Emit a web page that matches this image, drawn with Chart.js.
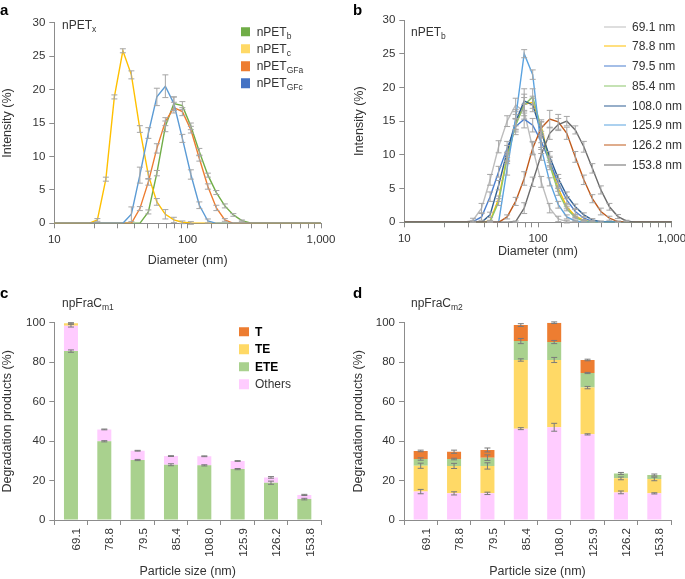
<!DOCTYPE html>
<html>
<head>
<meta charset="utf-8">
<script src="https://cdn.jsdelivr.net/npm/chart.js@4.4.1/dist/chart.umd.min.js"></script>
<style>
body { margin: 0; background: #fff; }
#page { position: relative; width: 685px; height: 579px; overflow: hidden; font-family: "Liberation Sans", Arial, sans-serif; color: #333; }
canvas { position: absolute; }
.t { position: absolute; white-space: nowrap; line-height: 1; transform: translateY(-50%); font-size: 12px; }
.t sub { font-size: 8.5px; vertical-align: baseline; position: relative; top: 3px; }
.tag { position: absolute; font-weight: bold; font-size: 15px; line-height: 1; color: #000; }
.sw { position: absolute; width: 9.5px; height: 9.5px; transform: translateY(-50%); }
.ln { position: absolute; width: 22px; height: 0; border-top: 1.5px solid; transform: translateY(-50%); }
</style>
</head>
<body>
<div id="page">
  <canvas id="ca" width="340" height="280" style="left:0;top:0"></canvas>
  <canvas id="cb" width="345" height="280" style="left:340px;top:0"></canvas>
  <canvas id="cc" width="340" height="299" style="left:0;top:280px"></canvas>
  <canvas id="cd" width="345" height="299" style="left:340px;top:280px"></canvas>

  <div class="tag" style="left:0;top:2px">a</div>
  <div class="tag" style="left:353px;top:2px">b</div>
  <div class="tag" style="left:0;top:285px">c</div>
  <div class="tag" style="left:353px;top:285px">d</div>

  <div class="t" style="left:62px;top:25px">nPET<sub>x</sub></div>
  <div class="t" style="left:411px;top:31.5px">nPET<sub>b</sub></div>
  <div class="t" style="left:62px;top:302.5px">npFraC<sub>m1</sub></div>
  <div class="t" style="left:411px;top:303px">npFraC<sub>m2</sub></div>
  <div id="legends"></div>
</div>
<script>
// DLS size bins (nm), shared by panels a and b
const binsNm = [8.721, 10.1, 11.7, 13.54, 15.69, 18.17, 21.04, 24.36, 28.21, 32.67,
  37.84, 43.82, 50.75, 58.77, 68.06, 78.82, 91.28, 105.7, 122.4, 141.8,
  164.2, 190.1, 220.2, 255.0, 295.3, 342.0, 396.1, 458.7, 531.2, 615.1,
  712.4, 825.0, 955.4, 1106];

// panel a: intensity (%) per bin
const nPETb = [0,0,0,0,0,0,0,0,0,0,
  0,0,1.7,7.5,14.5,17.9,17.6,14.5,10.7,7.2,
  4.6,2.6,1.25,0.4,0.05,0,0,0,0,0,
  0,0,0,0];
const nPETbErr = [0,0,0,0,0,0,0,0,0,0,
  0,0,0.3,0.4,0.8,1.0,0.6,0.5,0.5,0.3,
  0.3,0.3,0.2,0.1,0,0,0,0,0,0,
  0,0,0,0];
const nPETc = [0,0,0,0,0,0,0.5,6.6,18.9,25.8,
  22.2,14.1,7.2,3.2,1.35,0.5,0.15,0.05,0,0,
  0,0,0,0,0,0,0,0,0,0,
  0,0,0,0];
const nPETcErr = [0,0,0,0,0,0,0.2,0.3,0.3,0.3,
  0.6,0.5,0.6,0.5,0.7,0.4,0.2,0.2,0,0,
  0,0,0,0,0,0,0,0,0,0,
  0,0,0,0];
const nPETGFa = [0,0,0,0,0,0,0,0,0,0,
  0,2.2,6.2,11.2,15.2,17.3,16.7,14.0,9.7,5.5,
  2.3,0.5,0,0,0,0,0,0,0,0,
  0,0,0,0];
const nPETGFaErr = [0,0,0,0,0,0,0,0,0,0,
  0,0.3,0.5,0.7,0.6,0.8,0.6,0.5,0.4,0.4,
  0.4,0.2,0,0,0,0,0,0,0,0,
  0,0,0,0];
const nPETGFc = [0,0,0,0,0,0,0,0,0,0,
  1.35,7.2,13.5,18.9,20.5,17.9,12.7,7.3,2.7,0.35,
  0,0,0,0,0,0,0,0,0,0,
  0,0,0,0];
const nPETGFcErr = [0,0,0,0,0,0,0,0,0,0,
  1.1,1.2,0.8,1.3,1.7,1.0,0.6,0.7,0.5,0.3,
  0,0,0,0,0,0,0,0,0,0,
  0,0,0,0];

// panel b: nPETb fractions
const s691 = [0,0,0,0,0,0,0,0,0,0.3,
  2.1,6.3,11.2,15.0,17.4,16.4,11.0,6.0,2.1,0.5,
  0.1,0,0,0,0,0,0,0,0,0,
  0,0,0,0];
const s691Err = [0,0,0,0,0,0,0,0,0,0.3,
  0.7,0.8,0.9,0.8,1.0,1.1,0.9,0.8,0.7,0.4,
  0.2,0,0,0,0,0,0,0,0,0,
  0,0,0,0];
const s788 = [0,0,0,0,0,0,0,0,0,0,
  0,0.2,3.5,9.8,14.5,17.5,17.8,14.2,9.0,5.0,
  2.3,0.9,0.3,0,0,0,0,0,0,0,
  0,0,0,0];
const s788Err = [0,0,0,0,0,0,0,0,0,0,
  0,0.1,0.4,0.6,0.8,1.0,0.9,0.7,0.6,0.4,
  0.3,0.2,0.1,0,0,0,0,0,0,0,
  0,0,0,0];
const s795 = [0,0,0,0,0,0,0,0,0,0.1,
  0.8,3.8,7.5,11.0,14.2,15.3,14.4,12.0,9.0,5.8,
  3.3,1.6,0.6,0.15,0,0,0,0,0,0,
  0,0,0,0];
const s795Err = [0,0,0,0,0,0,0,0,0,0.1,
  0.5,0.7,0.8,1.0,1.2,1.3,1.0,0.9,0.8,0.7,
  0.5,0.4,0.2,0.1,0,0,0,0,0,0,
  0,0,0,0];
const s854 = [0,0,0,0,0,0,0,0,0,0,
  0,0.1,3.0,9.5,14.4,17.4,18.6,14.0,8.5,4.5,
  2.0,0.7,0.2,0,0,0,0,0,0,0,
  0,0,0,0];
const s854Err = [0,0,0,0,0,0,0,0,0,0,
  0,0.1,0.5,0.8,1.0,1.6,1.2,0.9,0.7,0.5,
  0.3,0.2,0.1,0,0,0,0,0,0,0,
  0,0,0,0];
const s1080 = [0,0,0,0,0,0,0,0,0,0,
  0,1.1,5.5,10.5,14.9,18.0,17.4,13.4,9.7,6.5,
  4.0,2.3,1.1,0.35,0.1,0,0,0,0,0,
  0,0,0,0];
const s1080Err = [0,0,0,0,0,0,0,0,0,0,
  0,0.4,0.7,0.9,1.1,1.8,1.0,0.9,0.8,0.6,
  0.5,0.4,0.3,0.2,0.1,0,0,0,0,0,
  0,0,0,0];
const s1259 = [0,0,0,0,0,0,0,0,0,0,
  0,0,0,8.0,15.5,25.0,21.9,11.0,6.0,2.6,
  0.8,0.2,0,0,0,0,0,0,0,0,
  0,0,0,0];
const s1259Err = [0,0,0,0,0,0,0,0,0,0,
  0,0,0,1.0,1.2,0.6,0.7,0.8,0.6,0.5,
  0.3,0.1,0,0,0,0,0,0,0,0,
  0,0,0,0];
const s1262 = [0,0,0,0,0,0,0,0,0,0,
  0,0,0,0.8,3.1,6.5,11.0,14.0,15.3,14.9,
  13.2,9.7,6.3,3.5,1.6,0.6,0.1,0,0,0,
  0,0,0,0];
const s1262Err = [0,0,0,0,0,0,0,0,0,0,
  0,0,0,0.3,0.6,1.0,1.0,1.2,1.3,1.1,
  0.9,0.8,0.7,0.6,0.5,0.3,0.1,0,0,0,
  0,0,0,0];
const s1538 = [0,0,0,0,0,0,0,0,0,0,
  0,0,0,0,0.1,2.1,6.0,10.0,13.2,14.5,
  15.0,13.7,11.2,8.0,4.8,2.3,0.85,0.2,0,0,
  0,0,0,0];
const s1538Err = [0,0,0,0,0,0,0,0,0,0,
  0,0,0,0,0.1,0.8,0.7,0.8,0.9,0.9,
  0.7,0.6,0.8,0.7,0.6,0.5,0.3,0.1,0,0,
  0,0,0,0];
const sizeLabelsB = ['69.1 nm', '78.8 nm', '79.5 nm', '85.4 nm', '108.0 nm', '125.9 nm', '126.2 nm', '153.8 nm'];

// panels c and d: degradation products (%) per particle size
const particleSizes = ['69.1', '78.8', '79.5', '85.4', '108.0', '125.9', '126.2', '153.8'];
const eteC    = [85.6, 39.9, 30.4, 28.0, 27.7, 25.8, 18.9, 10.6];
const othersC = [12.9, 6.0, 4.7, 4.4, 4.6, 4.1, 2.7, 2.1];
const teC     = [1.2, 0, 0, 0, 0, 0, 0, 0];
const tC      = [0, 0, 0, 0, 0, 0, 0, 0];
const eteCErr    = [0.6, 0.3, 0.3, 0.5, 0.3, 0.3, 0.8, 0.4];
const othersCErr = [0.7, 0.2, 0.2, 0.2, 0.2, 0.2, 0.4, 0.3];
const teCErr     = [0.3, 0, 0, 0, 0, 0, 0, 0];

const othersD = [14.4, 13.5, 13.5, 46.3, 47.0, 43.4, 14.0, 13.5];
const teD     = [13.1, 13.9, 13.9, 34.8, 34.1, 23.7, 7.1, 7.3];
const eteD    = [3.4, 3.5, 4.2, 9.6, 9.1, 7.4, 2.5, 2.0];
const tD      = [4.1, 3.7, 3.9, 8.1, 9.8, 6.6, 0, 0];
const othersDErr = [1.1, 0.8, 0.6, 0.5, 2.0, 0.3, 0.7, 0.3];
const teDErr     = [1.3, 1.3, 1.6, 0.6, 1.3, 0.6, 0.7, 0.9];
const eteDErr    = [0.6, 0.4, 1.4, 1.3, 0.8, 0.3, 0.5, 0.5];
const tDErr      = [0.4, 0.8, 1.0, 0.7, 0.4, 0.4, 0, 0];

const FONT = '"Liberation Sans", Arial, sans-serif';
const TEXT = '#333333';
const AXIS = '#8c8c8c';
const C_T = '#ed7d31', C_TE = '#ffd966', C_ETE = '#a9d18e', C_OTH = '#ffccff';

// draws +/- error bars centred on each element, sized with the y scale
const errorBars = {
  id: 'errorBars',
  afterDatasetsDraw(chart, args, opts) {
    const ctx = chart.ctx;
    const y = chart.scales.y;
    ctx.save();
    ctx.strokeStyle = opts.color;
    ctx.lineWidth = 1;
    chart.data.datasets.forEach((ds, i) => {
      if (!ds.errors) return;
      chart.getDatasetMeta(i).data.forEach((el, j) => {
        const e = ds.errors[j];
        if (!e) return;
        const h = y.getPixelForValue(0) - y.getPixelForValue(e);
        ctx.beginPath();
        ctx.moveTo(el.x, el.y - h); ctx.lineTo(el.x, el.y + h);
        ctx.moveTo(el.x - opts.cap, el.y - h); ctx.lineTo(el.x + opts.cap, el.y - h);
        ctx.moveTo(el.x - opts.cap, el.y + h); ctx.lineTo(el.x + opts.cap, el.y + h);
        ctx.stroke();
      });
    });
    ctx.restore();
  }
};

function yAxis(max, step, width, title, titleTop) {
  return {
    min: 0, max: max, stacked: true,
    border: { color: AXIS },
    grid: { drawOnChartArea: false, tickLength: 5, color: AXIS },
    ticks: { stepSize: step, color: TEXT, font: { family: FONT, size: 11.5 }, padding: 4 },
    title: { display: true, text: title, color: TEXT, font: { family: FONT, size: 12.5 }, padding: { top: titleTop, bottom: 0 } },
    afterFit(s) { s.width = width; s.paddingTop = 0; s.paddingBottom = 0; }
  };
}

function logAxis(height, titleBottom) {
  return {
    type: 'logarithmic', min: 10, max: 1000,
    border: { color: AXIS },
    grid: { drawOnChartArea: false, tickLength: 5, color: AXIS },
    ticks: {
      autoSkip: false, maxRotation: 0, color: TEXT, font: { family: FONT, size: 11.5 }, padding: 5,
      callback(v) {
        const l = Math.log10(v);
        if (Math.abs(l - Math.round(l)) > 1e-6) return '';
        return v >= 1000 ? v.toLocaleString('en-US') : String(v);
      }
    },
    title: { display: true, text: 'Diameter (nm)', color: TEXT, font: { family: FONT, size: 12.5 }, padding: { top: 0, bottom: titleBottom } },
    afterFit(s) { s.height = height; s.paddingLeft = 0; s.paddingRight = 0; }
  };
}

function catAxis(height) {
  return {
    stacked: true,
    border: { color: AXIS },
    grid: { drawOnChartArea: false, tickLength: 5, color: AXIS, offset: true },
    ticks: { minRotation: 90, maxRotation: 90, labelOffset: 6, color: TEXT, font: { family: FONT, size: 11.5 }, padding: 3 },
    title: { display: true, text: 'Particle size (nm)', color: TEXT, font: { family: FONT, size: 12.5 }, padding: { top: 0, bottom: 0 } },
    afterFit(s) { s.height = height; s.paddingLeft = 0; s.paddingRight = 0; }
  };
}

function lineSet(label, data, errors, color, order) {
  return { label, data, errors, borderColor: color, backgroundColor: color, borderWidth: 1.4,
    pointRadius: 0, tension: 0, fill: false, order };
}

function barSet(label, data, errors, color) {
  return { label, data, errors, backgroundColor: color, borderWidth: 0,
    barPercentage: 0.42, categoryPercentage: 1 };
}

function baseOptions(padding, scales, errColor) {
  return {
    responsive: false, animation: false,
    layout: { padding },
    plugins: { legend: { display: false }, tooltip: { enabled: false },
      errorBars: { color: errColor, cap: 3 } },
    scales
  };
}

// a
const seriesA = [
  lineSet('nPETb', nPETb, nPETbErr, '#70ad47', 3),
  lineSet('nPETc', nPETc, nPETcErr, '#ffc000', 2),
  lineSet('nPETGFa', nPETGFa, nPETGFaErr, '#ed7d31', 1),
  lineSet('nPETGFc', nPETGFc, nPETGFcErr, '#5b9bd5', 0)
];
new Chart(document.getElementById('ca'), {
  type: 'line',
  data: { labels: binsNm, datasets: seriesA },
  options: baseOptions({ top: 22.7, right: 19, left: 0, bottom: 0 },
    { x: logAxis(56.7, 11.5), y: { ...yAxis(30, 5, 54.3, 'Intensity (%)', 0.5), stacked: false } }, '#a6a6a6'),
  plugins: [errorBars]
});

// b
const colorsB = ['#bdbdbd', '#ffc000', '#4a7fcf', '#8cc66a', '#2f5f93', '#5ba3e0', '#c05a1b', '#6b6b6b'];
const valuesB = [s691, s788, s795, s854, s1080, s1259, s1262, s1538];
const errorsB = [s691Err, s788Err, s795Err, s854Err, s1080Err, s1259Err, s1262Err, s1538Err];
new Chart(document.getElementById('cb'), {
  type: 'line',
  data: { labels: binsNm, datasets: sizeLabelsB.map((l, i) => lineSet(l, valuesB[i], errorsB[i], colorsB[i], 7 - i)) },
  options: baseOptions({ top: 20, right: 13.3, left: 0, bottom: 0 },
    { x: logAxis(57.7, 20.5), y: { ...yAxis(30, 5, 64.3, 'Intensity (%)', 12.5), stacked: false } }, '#a6a6a6'),
  plugins: [errorBars]
});

// c (stack: ETE, Others, TE, T)
new Chart(document.getElementById('cc'), {
  type: 'bar',
  data: { labels: particleSizes, datasets: [
    barSet('ETE', eteC, eteCErr, C_ETE),
    barSet('Others', othersC, othersCErr, C_OTH),
    barSet('TE', teC, teCErr, C_TE),
    barSet('T', tC, null, C_T)
  ] },
  options: baseOptions({ top: 42.7, right: 19, left: 0, bottom: 0 },
    { x: catAxis(59), y: yAxis(100, 20, 54.3, 'Degradation products (%)', 0) }, '#7a7a7a'),
  plugins: [errorBars]
});

// d (stack: Others, TE, ETE, T)
new Chart(document.getElementById('cd'), {
  type: 'bar',
  data: { labels: particleSizes, datasets: [
    barSet('Others', othersD, othersDErr, C_OTH),
    barSet('TE', teD, teDErr, C_TE),
    barSet('ETE', eteD, eteDErr, C_ETE),
    barSet('T', tD, tDErr, C_T)
  ] },
  options: baseOptions({ top: 42.7, right: 14, left: 0, bottom: 0 },
    { x: catAxis(59), y: yAxis(100, 20, 64, 'Degradation products (%)', 11.5) }, '#7a7a7a'),
  plugins: [errorBars]
});

// HTML legends (subscripts need real markup)
const legendA = [['b', '#70ad47'], ['c', '#ffd966'], ['GFa', '#ed7d31'], ['GFc', '#4472c4']];
const legendC = [['T', C_T, true], ['TE', C_TE, true], ['ETE', C_ETE, true], ['Others', C_OTH, false]];
let html = '';
legendA.forEach(([sub, col], i) => {
  const y = 31.5 + i * 17.3;
  html += `<div class="sw" style="left:240.7px;top:${y}px;background:${col}"></div>` +
    `<div class="t" style="left:256.7px;top:${y}px">nPET<sub>${sub}</sub></div>`;
});
sizeLabelsB.forEach((l, i) => {
  const y = 26.7 + i * 19.7;
  html += `<div class="ln" style="left:604px;top:${y}px;border-color:${colorsB[i]}"></div>` +
    `<div class="t" style="left:632px;top:${y}px">${l}</div>`;
});
legendC.forEach(([name, col, bold], i) => {
  const y = 331.7 + i * 17.45;
  html += `<div class="sw" style="left:239px;top:${y}px;background:${col}"></div>` +
    `<div class="t" style="left:255px;top:${y}px;${bold ? 'font-weight:bold;color:#000' : ''}">${name}</div>`;
});
document.getElementById('legends').innerHTML = html;
</script>
</body>
</html>
